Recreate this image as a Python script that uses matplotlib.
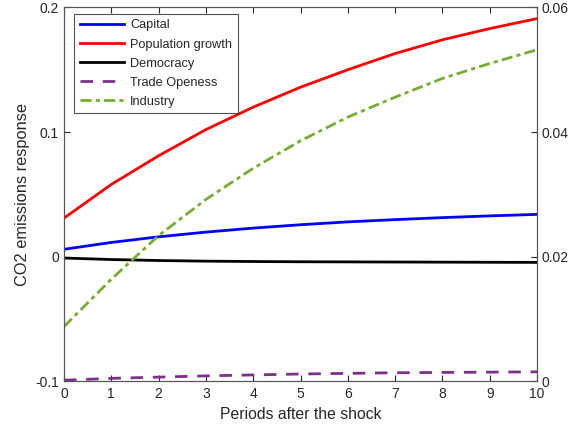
import numpy as np
import matplotlib
matplotlib.use("Agg")
import matplotlib.pyplot as plt

plt.rcParams['font.family'] = ['Liberation Sans', 'DejaVu Sans']

periods = [0, 1, 2, 3, 4, 5, 6, 7, 8, 9, 10]

# impulse responses (left axis)
capital = [0.006, 0.0115, 0.016, 0.0198, 0.023, 0.0257, 0.028, 0.0298, 0.0314, 0.0328, 0.034]
population = [0.031, 0.058, 0.081, 0.102, 0.120, 0.136, 0.150, 0.163, 0.174, 0.183, 0.191]
democracy = [-0.001, -0.0022, -0.003, -0.0035, -0.0038, -0.004, -0.0041, -0.0042, -0.0043, -0.0044, -0.0045]
industry = [-0.056, -0.018, 0.017, 0.046, 0.071, 0.093, 0.112, 0.128, 0.143, 0.155, 0.166]
# trade openness response (right axis)
trade = [0.0002, 0.0005, 0.0007, 0.0009, 0.00105, 0.0012, 0.0013, 0.0014, 0.00145, 0.0015, 0.00155]

labels = ["Capital", "Population growth", "Democracy", "Trade Openess", "Industry"]
txt = "#262626"
axcol = "#555555"

fig = plt.figure(figsize=(5.79, 4.34), dpi=100)
ax = fig.add_axes([0.1105, 0.121, 0.817, 0.862])
ax2 = ax.twinx()

l1, = ax.plot(periods, capital, color="#0000ff", lw=2)
l2, = ax.plot(periods, population, color="#ff0000", lw=2)
l3, = ax.plot(periods, democracy, color="black", lw=2)
l5, = ax.plot(periods, industry, color="#77AC30", lw=2, dashes=(4, 1.5, 1.5, 1.5))
l4, = ax2.plot(periods, trade, color="#7E2F8E", lw=2, dashes=(4.5, 3.5))

ax.set_xlim(0, 10)
ax.set_ylim(-0.1, 0.2)
ax.set_yticks([-0.1, 0, 0.1, 0.2])
ax.set_yticklabels(["-0.1", "0", "0.1", "0.2"])
ax.set_xticks(periods)
ax2.set_ylim(0, 0.06)
ax2.set_yticks([0, 0.02, 0.04, 0.06])
ax2.set_yticklabels(["0", "0.02", "0.04", "0.06"])

ax.tick_params(axis="x", direction="in", top=True, length=4, colors=txt, labelsize=10, pad=4)
ax.tick_params(axis="y", direction="in", length=4, colors=txt, labelsize=10)
ax2.tick_params(axis="y", direction="in", length=4, colors=txt, labelsize=10)
for a in (ax, ax2):
    for s in a.spines.values():
        s.set_color(axcol)
        s.set_linewidth(0.8)

ax.set_xlabel("Periods after the shock", fontsize=11.3, color=txt)
ax.set_ylabel("CO2 emissions response", fontsize=11.8, color=txt)

leg = ax.legend([l1, l2, l3, l4, l5], labels, loc="upper left",
                bbox_to_anchor=(0.021, 0.983), fontsize=9.2, frameon=True,
                fancybox=False, edgecolor=txt, handlelength=3.5,
                handletextpad=0.45, labelspacing=0.55, borderpad=0.45,
                borderaxespad=0)
leg.get_frame().set_linewidth(0.8)
for t in leg.get_texts():
    t.set_color(txt)

fig.savefig("out.png", dpi=100)
